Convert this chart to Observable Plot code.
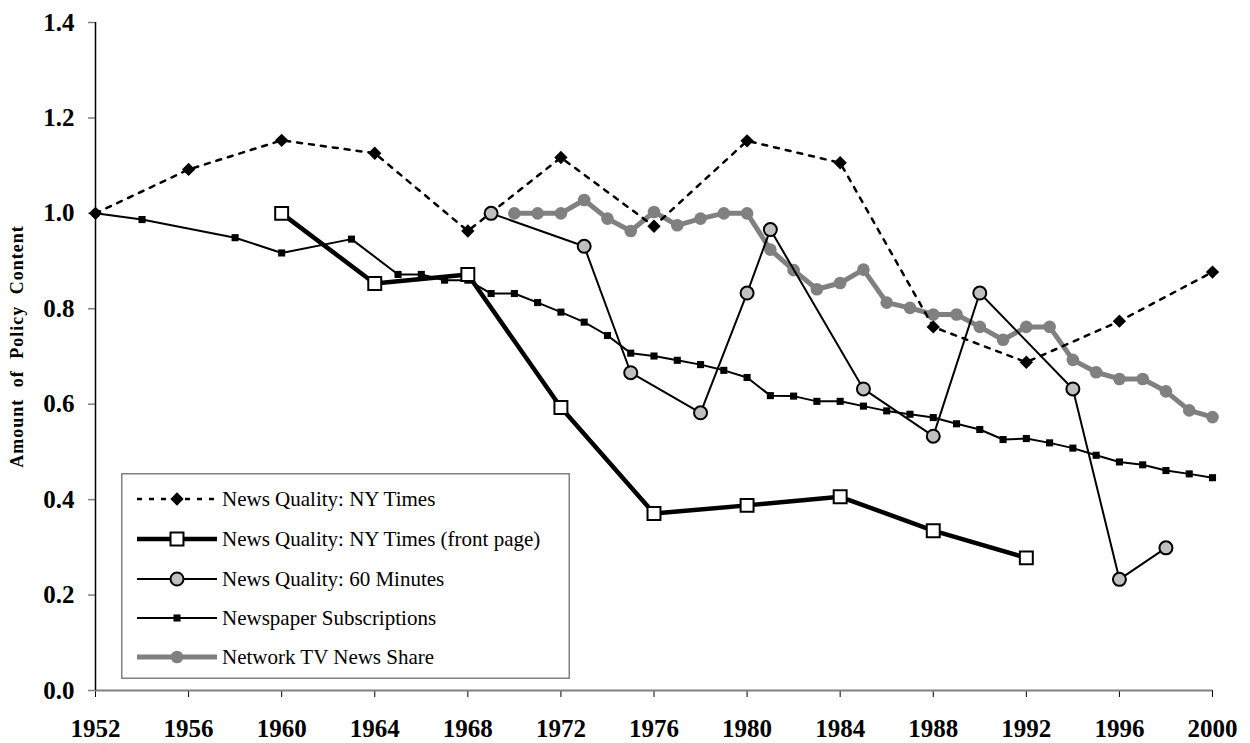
<!DOCTYPE html>
<html><head><meta charset="utf-8">
<script src="https://cdn.jsdelivr.net/npm/d3@7"></script>
<script src="https://cdn.jsdelivr.net/npm/@observablehq/plot@0.6"></script>
<style>
body{margin:0;background:#fff;}
#wrap{position:relative;width:1250px;height:743px;font-family:"Liberation Serif","Times New Roman",serif;}
#legend{position:absolute;left:121px;top:473px;}
g[aria-label="y-axis tick label"], g[aria-label="x-axis tick label"]{font-weight:bold;font-size:25px;}
g.ylab text{letter-spacing:1px;word-spacing:6px;}
</style></head><body><div id="wrap"></div>
<script>
// ---- data ----
const nytYears = [1952,1956,1960,1964,1968,1972,1976,1980,1984,1988,1992,1996,2000];
const nytValues = [1.0,1.092,1.153,1.126,0.963,1.117,0.973,1.152,1.106,0.762,0.688,0.774,0.877];

const frontYears = [1960,1964,1968,1972,1976,1980,1984,1988,1992];
const frontValues = [1.0,0.853,0.872,0.593,0.371,0.388,0.406,0.335,0.278];

const minutesYears = [1969,1973,1975,1978,1980,1981,1985,1988,1990,1994,1996,1998];
const minutesValues = [1.0,0.931,0.666,0.582,0.833,0.966,0.632,0.533,0.833,0.632,0.233,0.299];

const subsYears = [1952,1954,1958,1960,1963,1965,1966,1967,1968,1969,1970,1971,1972,1973,1974,1975,1976,1977,1978,1979,1980,1981,1982,1983,1984,1985,1986,1987,1988,1989,1990,1991,1992,1993,1994,1995,1996,1997,1998,1999,2000];
const subsValues = [1.0,0.987,0.949,0.917,0.946,0.872,0.872,0.860,0.860,0.832,0.832,0.813,0.793,0.772,0.744,0.707,0.701,0.692,0.683,0.671,0.656,0.618,0.617,0.606,0.606,0.596,0.586,0.579,0.572,0.559,0.547,0.526,0.528,0.519,0.508,0.493,0.479,0.473,0.461,0.454,0.446];

const networkYears = [1970,1971,1972,1973,1974,1975,1976,1977,1978,1979,1980,1981,1982,1983,1984,1985,1986,1987,1988,1989,1990,1991,1992,1993,1994,1995,1996,1997,1998,1999,2000];
const networkValues = [1.0,1.0,1.0,1.028,0.989,0.963,1.003,0.975,0.989,1.0,1.0,0.924,0.881,0.841,0.854,0.882,0.813,0.802,0.788,0.788,0.762,0.735,0.762,0.762,0.693,0.667,0.653,0.653,0.627,0.587,0.573];

const seriesNames = ["News Quality: NY Times","News Quality: NY Times (front page)","News Quality: 60 Minutes","Newspaper Subscriptions","Network TV News Share"];
const xTicks = [1952,1956,1960,1964,1968,1972,1976,1980,1984,1988,1992,1996,2000];
const yTicks = [0,0.2,0.4,0.6,0.8,1.0,1.2,1.4];
const yLabel = "Amount of Policy Content";

const rows = (ys, vs) => ys.map((year, i) => ({year, value: vs[i]}));
const nyt = rows(nytYears, nytValues);
const front = rows(frontYears, frontValues);
const minutes = rows(minutesYears, minutesValues);
const subs = rows(subsYears, subsValues);
const network = rows(networkYears, networkValues);

const font = '"Liberation Serif","Times New Roman",serif';
const xy = {x:"year", y:"value"};

const chart = Plot.plot({
  width:1250, height:743,
  marginLeft:95, marginRight:38, marginTop:22, marginBottom:53,
  x:{domain:[1952,2000]},
  y:{domain:[0,1.4]},
  style:{fontFamily:font, background:"white", color:"black"},
  marks:[
    Plot.axisY({ticks:yTicks, tickSize:7, tickPadding:14, tickFormat:d3.format(".1f"), stroke:"#808080", strokeWidth:1.5, fill:"black", fontSize:25, fontWeight:"bold", label:null}),
    Plot.axisX({ticks:xTicks, tickSize:7, tickPadding:22, tickFormat:d=>String(d), stroke:"black", fill:"black", fontSize:25, fontWeight:"bold", label:null}),
    Plot.text([yLabel], {frameAnchor:"left", textAnchor:"middle", rotate:-90, dx:-78, dy:-10, fontSize:18, fontWeight:"bold", fill:"black", className:"ylab"}),
    Plot.ruleY([0], {stroke:"#808080", strokeWidth:2}),
    Plot.ruleX([1952], {stroke:"black", strokeWidth:1.5}),
    Plot.line(network, {...xy, stroke:"#808080", strokeWidth:5}),
    Plot.dot(network, {...xy, r:6.3, fill:"#808080"}),
    Plot.line(subs, {...xy, stroke:"black", strokeWidth:2}),
    Plot.dot(subs, {...xy, symbol:"square", r:4, fill:"black"}),
    Plot.line(nyt, {...xy, stroke:"black", strokeWidth:2.5, strokeDasharray:"5,7"}),
    Plot.dot(nyt, {...xy, symbol:"diamond2", r:6, fill:"black"}),
    Plot.line(front, {...xy, stroke:"black", strokeWidth:4.5}),
    Plot.dot(front, {...xy, symbol:"square", r:7.3, fill:"white", stroke:"black", strokeWidth:2}),
    Plot.line(minutes, {...xy, stroke:"black", strokeWidth:2}),
    Plot.dot(minutes, {...xy, r:6.5, fill:"#c0c0c0", stroke:"black", strokeWidth:2})
  ]
});
const wrap = document.getElementById("wrap");
wrap.appendChild(chart);

// ---- legend ----
const styles = [
  {stroke:"black", width:2.5, dash:"5,7", sym:d3.symbolDiamond2, r:6, fill:"black", symStroke:"none", sw:0},
  {stroke:"black", width:4.5, dash:null, sym:d3.symbolSquare, r:7.3, fill:"white", symStroke:"black", sw:2},
  {stroke:"black", width:2, dash:null, sym:d3.symbolCircle, r:6.5, fill:"#c0c0c0", symStroke:"black", sw:2},
  {stroke:"black", width:2, dash:null, sym:d3.symbolSquare, r:4, fill:"black", symStroke:"none", sw:0},
  {stroke:"#808080", width:5, dash:null, sym:d3.symbolCircle, r:6.3, fill:"#808080", symStroke:"none", sw:0}
];
const LW = 449, LH = 206;
const svg = d3.select(wrap).append("svg").attr("id","legend").attr("width",LW).attr("height",LH);
svg.append("rect").attr("x",0.75).attr("y",0.75).attr("width",LW-1.5).attr("height",LH-1.5)
  .attr("fill","white").attr("stroke","#808080").attr("stroke-width",1.5);
const rowY = [26,66,106,145,184];
seriesNames.forEach((name, i) => {
  const s = styles[i], y = rowY[i];
  const g = svg.append("g");
  g.append("line").attr("x1",16).attr("x2",96).attr("y1",y).attr("y2",y)
    .attr("stroke",s.stroke).attr("stroke-width",s.width).attr("stroke-dasharray",s.dash);
  g.append("path").attr("d", d3.symbol(s.sym, Math.PI*s.r*s.r)()).attr("transform",`translate(56,${y})`)
    .attr("fill",s.fill).attr("stroke",s.symStroke).attr("stroke-width",s.sw);
  g.append("text").attr("x",101).attr("y",y).attr("dy","0.35em").attr("font-family",font)
    .attr("font-size",21).attr("fill","black").text(name);
});
</script>
</body></html>
